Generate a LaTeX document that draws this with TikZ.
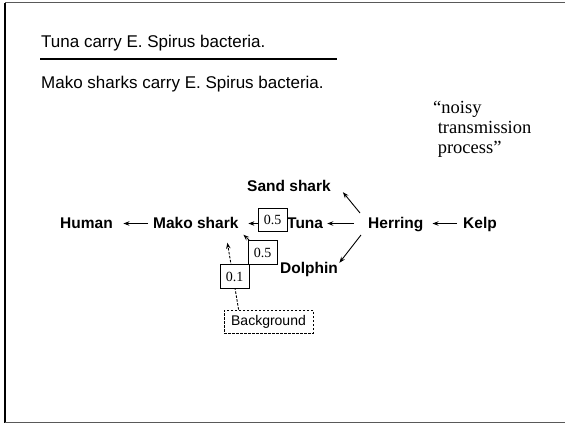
\documentclass[tikz,border=0pt]{standalone}
\usepackage{fontspec}
\setmainfont{Liberation Serif}
\setsansfont{Liberation Sans}
\usetikzlibrary{arrows.meta,calc}

\begin{document}
\begin{tikzpicture}[x=1pt,y=-1pt,
  claim/.style={anchor=base west, inner sep=0pt, font=\sffamily\fontsize{17}{20}\selectfont},
  note/.style={anchor=base west, inner sep=0pt, font=\rmfamily\fontsize{18.5}{20}\selectfont},
  animal/.style={anchor=base west, inner sep=0pt, text height=12pt, text depth=3pt,
                 font=\sffamily\bfseries\fontsize{15.5}{18}\selectfont},
  prob/.style={draw, fill=white, line width=0.9pt, inner sep=0pt,
               minimum width=29pt, minimum height=23.5pt,
               font=\rmfamily\fontsize{14}{16}\selectfont},
  bgbox/.style={draw, dashed, dash pattern=on 2.5pt off 1.5pt, line width=0.8pt,
                inner sep=0pt, minimum width=89pt, minimum height=23pt,
                font=\sffamily\fontsize{14}{16}\selectfont},
  arr/.style={line width=0.9pt, -{Stealth[length=6pt,width=4.5pt]}},
  darr/.style={arr, dash pattern=on 2.5pt off 1.5pt}
]
\useasboundingbox (0,0) rectangle (565,424);

% slide frame
\draw[black!65, line width=1.2pt] (5,2.5) -- (565,2.5);
\draw[black, line width=1.2pt] (5,2.5) -- (5,422.5);
\draw[black!65, line width=1.2pt] (5,422.5) -- (565,422.5);

% premise / conclusion
\node[claim] (premise) at (41,47) {Tuna carry E. Spirus bacteria.};
\draw[line width=1.8pt] (40,59) -- (337,59);
\node[claim] (conclusion) at (41,88) {Mako sharks carry E. Spirus bacteria.};

% side note
\node[note] (note1) at (433,113) {“noisy};
\node[note] (note2) at (437.6,133) {transmission};
\node[note] (note3) at (437.6,153) {process”};

% food chain
\node[animal] (human)   at (60,228)  {Human};
\node[animal] (mako)    at (153,228) {Mako shark};
\node[animal] (tuna)    at (287,228) {Tuna};
\node[animal] (herring) at (368,228) {Herring};
\node[animal] (kelp)    at (463,228) {Kelp};
\node[animal] (sand)    at (247,191) {Sand shark};
\node[animal] (dolphin) at (280,273) {Dolphin};

\node[bgbox] (bg) at (268.5,321.5) {Background};

% transmission arrows
\draw[arr, shorten <=5pt, shorten >=10.5pt] (mako.west) -- (human.east);
\draw[arr, shorten <=1pt, shorten >=9.7pt] (tuna.west) -- (mako.east);
\draw[arr, shorten <=14pt, shorten >=4pt] (herring.west) -- (tuna.east);
\draw[arr, shorten <=6pt, shorten >=9pt] (kelp.west) -- (herring.east);
\draw[arr] ($(herring.west)+(-8,-10.5)$) -- ($(sand.south east)+(12,-2)$);
\draw[arr] ($(herring.west)+(-7,11.5)$) -- ($(dolphin.north east)+(1.3,2)$);
\draw[darr, shorten <=6pt] (dolphin.west) -- ($(mako.south east)+(4.7,3.5)$);
\draw[darr] ($(bg.north west)+(15,0)$) -- ($(mako.south east)+(-11.3,11.5)$);

% transmission probabilities
\node[prob] (ptuna)    at (272.5,220)   {0.5};
\node[prob] (pdolphin) at (262.5,252.5) {0.5};
\node[prob] (pbg)      at (234.5,276.5) {0.1};
\end{tikzpicture}
\end{document}
